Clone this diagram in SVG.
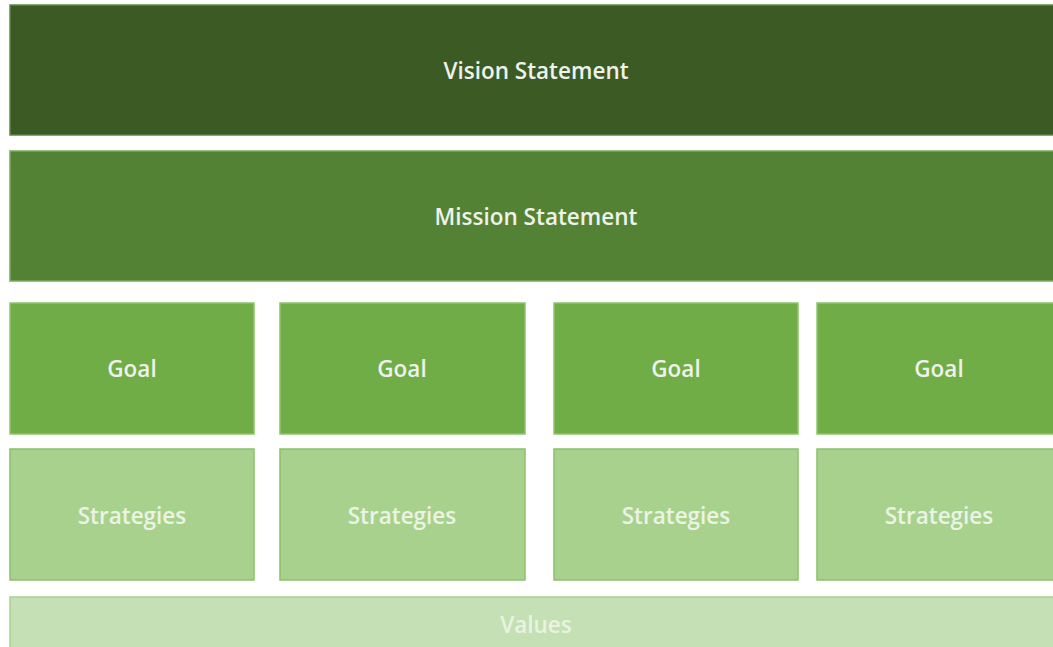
<svg xmlns="http://www.w3.org/2000/svg" width="1053" height="647" viewBox="0 0 1053 647">
<style>
rect{stroke-width:1.5}
text{font-family:"Open Sans","Liberation Sans",sans-serif;font-size:22.5px;font-weight:600;text-anchor:middle;fill:#eef2ea}
.v{fill:#3b5a24;stroke:#5e8a45}
.m{fill:#548235;stroke:#7aab5c}
.g{fill:#70ad47;stroke:#8fc46c}
.s{fill:#a9d18e;stroke:#8cc06c}
.s+text{fill:#eaf4e3}
.val{fill:#c5e0b4;stroke:#a9d18e}
.val+text{fill:#e9f3e2}
</style>
<rect width="1053" height="647" fill="#ffffff" stroke="none"/>
<g id="vision"><rect class="v" x="10" y="5" width="1052" height="130"/><text x="536" y="79">Vision Statement</text></g>
<g id="mission"><rect class="m" x="10" y="151" width="1052" height="130"/><text x="536" y="225">Mission Statement</text></g>
<g id="goal1"><rect class="g" x="10" y="303" width="244" height="131"/><text x="132" y="377">Goal</text></g>
<g id="goal2"><rect class="g" x="280" y="303" width="245" height="131"/><text x="402" y="377">Goal</text></g>
<g id="goal3"><rect class="g" x="554" y="303" width="244" height="131"/><text x="676" y="377">Goal</text></g>
<g id="goal4"><rect class="g" x="817" y="303" width="244" height="131"/><text x="939" y="377">Goal</text></g>
<g id="strat1"><rect class="s" x="10" y="449" width="244" height="131"/><text x="132" y="524">Strategies</text></g>
<g id="strat2"><rect class="s" x="280" y="449" width="245" height="131"/><text x="402" y="524">Strategies</text></g>
<g id="strat3"><rect class="s" x="554" y="449" width="244" height="131"/><text x="676" y="524">Strategies</text></g>
<g id="strat4"><rect class="s" x="817" y="449" width="244" height="131"/><text x="939" y="524">Strategies</text></g>
<g id="values"><rect class="val" x="10" y="597" width="1052" height="60"/><text x="536" y="633">Values</text></g>
<g id="connectors"></g>
</svg>
